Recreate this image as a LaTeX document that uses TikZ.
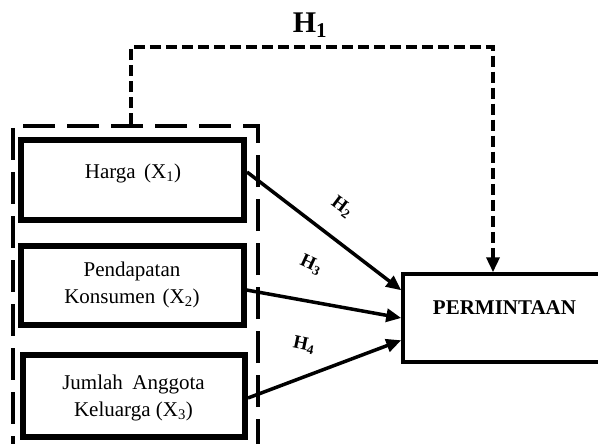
\documentclass[tikz,border=0pt]{standalone}
\usepackage{fontspec}
\setmainfont{Liberation Serif}
\usetikzlibrary{arrows.meta}
\begin{document}
\begin{tikzpicture}[x=1pt,y=-1pt,
  varbox/.style={draw,line width=6pt,minimum width=223pt,minimum height=80pt,inner sep=0pt},
  boxtext/.style={font=\fontsize{21}{27}\selectfont,align=center,inner sep=0pt},
  grpbox/.style={draw,line width=3.5pt,dash pattern=on 32pt off 12pt,minimum width=245pt,minimum height=344pt,inner sep=0pt},
  depbox/.style={draw,line width=3.5pt,minimum width=207pt,minimum height=88pt,inner sep=0pt},
  hlabel/.style={font=\fontsize{19}{22}\bfseries\selectfont,inner sep=0pt},
  effect/.style={line width=3.5pt,-{Triangle[length=15pt,width=13pt]}},
  simline/.style={line width=3.5pt,dash pattern=on 11pt off 5pt,-{Triangle[length=15pt,width=13pt]}}
]
\path[use as bounding box,clip] (0,0) rectangle (598,444);
\fill[white] (0,0) rectangle (598,444);

% group box (bottom edge lies below the view)
\node[grpbox] (grp) at (135.5,298) {};

% variable boxes
\node[varbox] (b1) at (132.5,180) {};
\node[varbox,minimum height=79pt] (b2) at (132,285.5) {};
\node[varbox,minimum width=222pt,minimum height=82pt] (b3) at (134,396) {};
\node[boxtext] (t1) at (133,173) {Harga\hspace{0.4em}(X\textsubscript{1})};
\node[boxtext] (t2) at (132,285) {Pendapatan\\Konsumen\hspace{0.35em}(X\textsubscript{2})};
\node[boxtext] (t3) at (133.5,398) {Jumlah\hspace{0.45em}Anggota\\Keluarga (X\textsubscript{3})};

% dependent box (right edge lies beyond the view)
\node[depbox] (P) at (506.5,318) {};
\node[font=\fontsize{21}{25}\bfseries\selectfont,inner sep=0pt] (pt) at (504.5,308) {PERMINTAAN};

% simultaneous hypothesis H1
\coordinate (h1L) at (131,47);
\coordinate (h1R) at (493,47);
\draw[simline] (grp.north -| h1L) -- (h1L) -- (h1R) -- (P.north -| h1R);
\node[font=\fontsize{30}{34}\bfseries\selectfont,inner sep=0pt] (h1) at (310,25) {H\textsubscript{1}};

% partial effects
\draw[effect] ([yshift=8pt]b1.east) -- ([yshift=-18pt]P.north west);
\draw[effect] ([yshift=-4.5pt]b2.east) -- (P.west);
\draw[effect] ([yshift=-2pt]b3.east) -- ([yshift=-68pt]P.north west);

\node[hlabel,rotate=-37] (h2) at (342,207) {H\textsubscript{2}};
\node[hlabel,rotate=-25] (h3) at (311,265) {H\textsubscript{3}};
\node[hlabel,rotate=-12] (h4) at (304,345) {H\textsubscript{4}};
\end{tikzpicture}
\end{document}
